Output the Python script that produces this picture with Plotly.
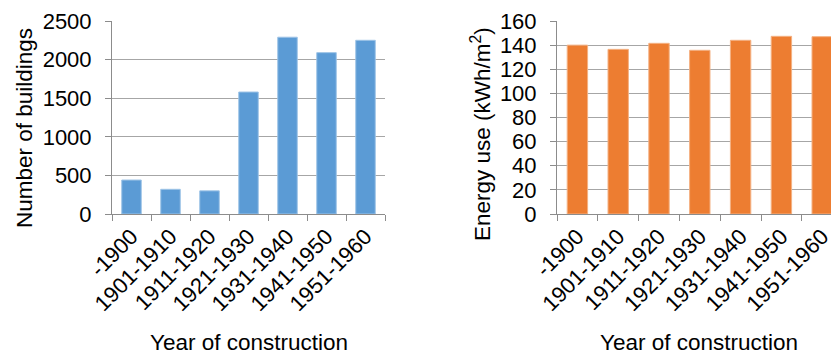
import plotly.graph_objects as go

# Construction periods
periods = ["-1900", "1901-1910", "1911-1920", "1921-1930",
           "1931-1940", "1941-1950", "1951-1960"]

# Number of buildings per construction period
buildings = [440, 320, 300, 1580, 2290, 2090, 2250]

# Average energy use per period (kWh/m²)
energy_use = [140, 136.5, 141.5, 135.7, 144, 147.3, 147]

W, H = 831, 355
FONT = "Liberation Sans, Arial, sans-serif"
AXIS_GREY = "#8C8C8C"
GRID_GREY = "#A6A6A6"

fig = go.Figure()

fig.add_trace(go.Bar(
    x=periods, y=buildings, xaxis="x", yaxis="y",
    marker=dict(color="#5B9BD5", line=dict(color="#9DC3E6", width=1)),
    showlegend=False,
))
fig.add_trace(go.Bar(
    x=periods, y=energy_use, xaxis="x2", yaxis="y2",
    marker=dict(color="#ED7D31", line=dict(color="#F4B183", width=1)),
    showlegend=False,
))

y_dom = [(H - 214) / H, (H - 21) / H]
x1_dom = [112 / W, 385 / W]
x2_dom = [557 / W, 1.0]

# right panel: same category width as the left one, last bar runs off the edge
x2_end = -0.5 + (W - 557) / 40.8

xcommon = dict(
    type="category", showline=True, linecolor=AXIS_GREY, linewidth=1,
    ticks="outside", ticklen=6, tickcolor=AXIS_GREY, tickson="boundaries",
    tickangle=-45, showgrid=False, zeroline=False, automargin=False,
    tickfont=dict(family=FONT, size=22, color="black"),
)
ycommon = dict(
    showline=True, linecolor=AXIS_GREY, linewidth=1,
    ticks="outside", ticklen=6, tickcolor=AXIS_GREY,
    showgrid=True, gridcolor=GRID_GREY, gridwidth=1, zeroline=False,
    automargin=False, ticklabelstandoff=9,
    tickfont=dict(family=FONT, size=22, color="black"),
)


def title(text, x, y, angle=0):
    return dict(text=text, x=x / W, y=1 - y / H, xref="paper", yref="paper",
                xanchor="center", yanchor="middle", textangle=angle,
                showarrow=False, font=dict(size=22.5, family=FONT))


fig.update_layout(
    width=W, height=H,
    margin=dict(l=0, r=0, t=0, b=0),
    paper_bgcolor="white", plot_bgcolor="white",
    bargap=0.5,
    font=dict(family=FONT, color="black"),
    xaxis=dict(domain=x1_dom, anchor="y", range=[-0.5, 6.5], **xcommon),
    yaxis=dict(domain=y_dom, anchor="x", range=[0, 2500], dtick=500, **ycommon),
    xaxis2=dict(domain=x2_dom, anchor="y2", range=[-0.5, x2_end], **xcommon),
    yaxis2=dict(domain=y_dom, anchor="x2", range=[0, 160], dtick=20, **ycommon),
    annotations=[
        title("Number of buildings", 25, 128, -90),
        title("Energy use (kWh/m<sup>2</sup>)", 481, 134, -90),
        title("Year of construction", 249, 342),
        title("Year of construction", 699, 342),
    ],
)

fig.write_html("out.html")
